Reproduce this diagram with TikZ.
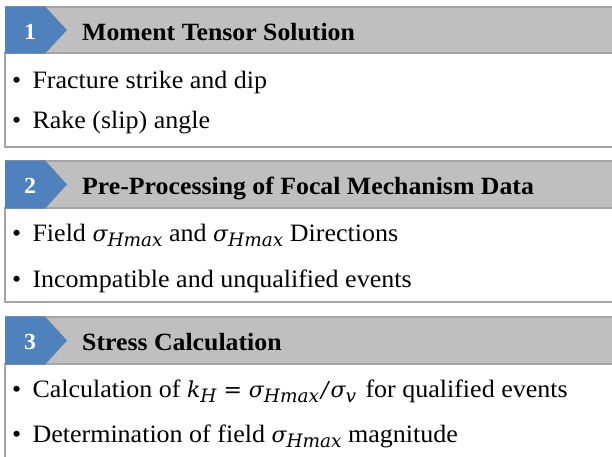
\documentclass[tikz,border=0pt]{standalone}
\usepackage{fontspec}
\setmainfont[FakeStretch=1.04]{Liberation Serif}
\newfontfamily\mathfam{DejaVu Serif}
\definecolor{tabblue}{HTML}{4F81BD}
\definecolor{headgray}{HTML}{BFBFBF}
\definecolor{edgegray}{HTML}{A5A5A5}
\newcommand{\mv}[1]{{\fontsize{22}{22}\mathfam\itshape #1}}
\newcommand{\subx}[1]{\raisebox{-0.5ex}{\fontsize{18.5}{18.5}\mathfam\itshape #1}}
\newcommand{\sgH}{\mv{σ}\subx{Hmax}}
\tikzset{
  bodybox/.style={draw=edgegray, line width=1.2pt, fill=white},
  headbar/.style={fill=headgray},
  headline/.style={draw=edgegray, line width=1.2pt},
  tabshape/.style={fill=tabblue},
  numtext/.style={text=white, font=\fontsize{23}{23}\selectfont\bfseries, inner sep=0pt, anchor=base},
  titletext/.style={font=\fontsize{24.8}{24.8}\selectfont\bfseries, inner sep=0pt, anchor=base west},
  itemtext/.style={font=\fontsize{25}{25}\selectfont, inner sep=0pt, anchor=base west}
}
\begin{document}
\begin{tikzpicture}[x=1pt,y=-1pt]
\useasboundingbox (0,0) rectangle (612,456);
\fill[white] (0,0) rectangle (612,456);
\clip (0,0) rectangle (612,456);
% ---------- box 1
\draw[bodybox] (5,53) rectangle (618,147);
\fill[headbar] (5,7) rectangle (618,53);
\draw[headline] (5,7) -- (618,7);
\draw[headline] (5,53) -- (618,53);
\fill[tabshape] (5,6.4) -- (45,6.4) -- (67,30) -- (45,53.6) -- (5,53.6) -- cycle;
\node[numtext] (n1) at (30,39) {1};
\node[titletext] (t1) at (82,40) {Moment Tensor Solution};
\node[itemtext] (a1) at (12,88) {•\hspace{0.45em}Fracture strike and dip};
\node[itemtext] (b1) at (12,128) {•\hspace{0.45em}Rake (slip) angle};
% ---------- box 2
\draw[bodybox] (5,208) rectangle (618,302);
\fill[headbar] (5,161) rectangle (618,208);
\draw[headline] (5,161) -- (618,161);
\draw[headline] (5,208) -- (618,208);
\fill[tabshape] (5,160.4) -- (45,160.4) -- (67,184.5) -- (45,208.6) -- (5,208.6) -- cycle;
\node[numtext] (n2) at (30,193) {2};
\node[titletext] (t2) at (82,194) {Pre-Processing of Focal Mechanism Data};
\node[itemtext] (a2) at (12,241) {•\hspace{0.45em}Field \sgH{} and \sgH{} Directions};
\node[itemtext] (b2) at (12,287) {•\hspace{0.45em}Incompatible and unqualified events};
% ---------- box 3
\draw[bodybox] (5,364) rectangle (618,470);
\fill[headbar] (5,317) rectangle (618,364);
\draw[headline] (5,317) -- (618,317);
\draw[headline] (5,364) -- (618,364);
\fill[tabshape] (5,316.4) -- (45,316.4) -- (67,340.5) -- (45,364.6) -- (5,364.6) -- cycle;
\node[numtext] (n3) at (30,349) {3};
\node[titletext] (t3) at (82,350) {Stress Calculation};
\node[itemtext] (a3) at (12,397) {•\hspace{0.45em}Calculation of \mv{k}\subx{H}\hspace{7pt}{\fontsize{22}{22}\mathfam =}\hspace{7pt}\sgH\hspace{2pt}\mv{/}\hspace{2pt}\mv{σ}\subx{v}\hspace{3pt} for qualified events};
\node[itemtext] (b3) at (12,442) {•\hspace{0.45em}Determination of field \sgH{} magnitude};
\end{tikzpicture}
\end{document}
